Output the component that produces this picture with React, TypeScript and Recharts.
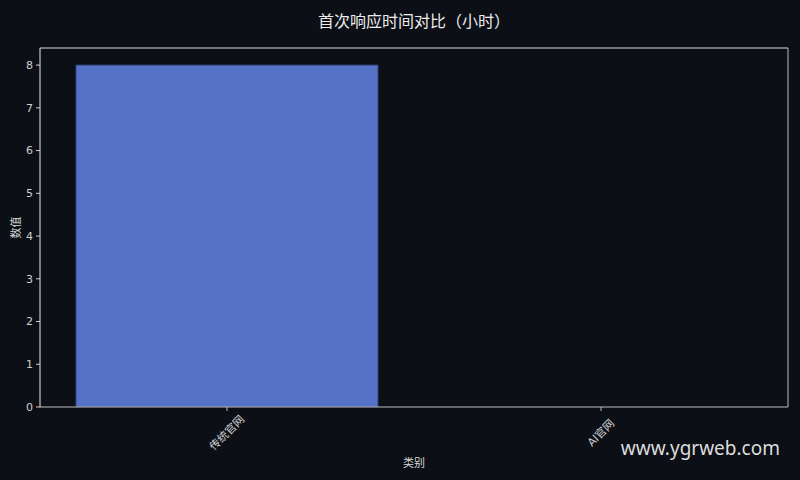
import React from "react";
import { BarChart, Bar, XAxis, YAxis, usePlotArea } from "recharts";

const categories = ["传统官网", "AI官网"];
const values = [8, 0];
const yTicks = [0, 1, 2, 3, 4, 5, 6, 7, 8];

const data = categories.map((c, i) => ({ name: c, value: values[i] }));

const BG = "#0c0f16";
const FONT = "'DejaVu Sans', 'Noto Sans CJK SC', sans-serif";

const XTick = (props: any) => {
  const { x, y, payload } = props;
  const cy = y + 20;
  return (
    <text
      x={x}
      y={cy}
      textAnchor="middle"
      dominantBaseline="central"
      fill="#cfcfcf"
      fontSize={11}
      fontFamily={FONT}
      transform={`rotate(-45, ${x}, ${cy})`}
    >
      {payload.value}
    </text>
  );
};

const Frame = () => {
  const area = (usePlotArea as any)?.();
  if (!area) return null;
  const { x, y, width, height } = area;
  return (
    <g>
      <line x1={x} y1={y} x2={x + width} y2={y} stroke="#e0e0e0" strokeWidth={1} />
      <line x1={x + width} y1={y} x2={x + width} y2={y + height} stroke="#bdbdbd" strokeWidth={1} />
    </g>
  );
};

export default function App() {
  return (
    <div style={{ position: "fixed", left: 0, top: 0, width: 800, height: 480, background: BG }}>
      <BarChart
        width={800}
        height={480}
        data={data}
        margin={{ top: 48, right: 12, bottom: 0, left: 0 }}
        barCategoryGap={36}
      >
        <XAxis
          dataKey="name"
          height={73}
          stroke="#bdbdbd"
          tickLine={{ stroke: "#bdbdbd" }}
          tickSize={4}
          tick={<XTick />}
          interval={0}
          label={{ value: "类别", position: "insideBottom", offset: 13, fill: "#d8d8d8", fontSize: 11, fontFamily: FONT }}
        />
        <YAxis
          type="number"
          domain={[0, 8.4]}
          ticks={yTicks}
          width={40}
          stroke="#e8e8e8"
          tickLine={{ stroke: "#d0d0d0" }}
          tickSize={4}
          tickMargin={3}
          tick={{ fill: "#d0d0d0", fontSize: 11, fontFamily: FONT }}
          allowDataOverflow
          label={{ value: "数值", angle: -90, position: "insideLeft", offset: 16, fill: "#d8d8d8", fontSize: 11, fontFamily: FONT, style: { textAnchor: "middle" } }}
        />
        <Bar dataKey="value" fill="#5571c8" stroke="#33457d" strokeWidth={1} isAnimationActive={false} />
        <Frame />
        <text x={414} y={21} textAnchor="middle" dominantBaseline="central" fill="#ececec" fontSize={16} fontFamily={FONT}>
          首次响应时间对比（小时）
        </text>
        <text x={780} y={448} textAnchor="end" dominantBaseline="central" fill="#dcdcdc" fontSize={19} fontFamily="'Noto Sans', 'Open Sans', sans-serif">
          www.ygrweb.com
        </text>
      </BarChart>
    </div>
  );
}
